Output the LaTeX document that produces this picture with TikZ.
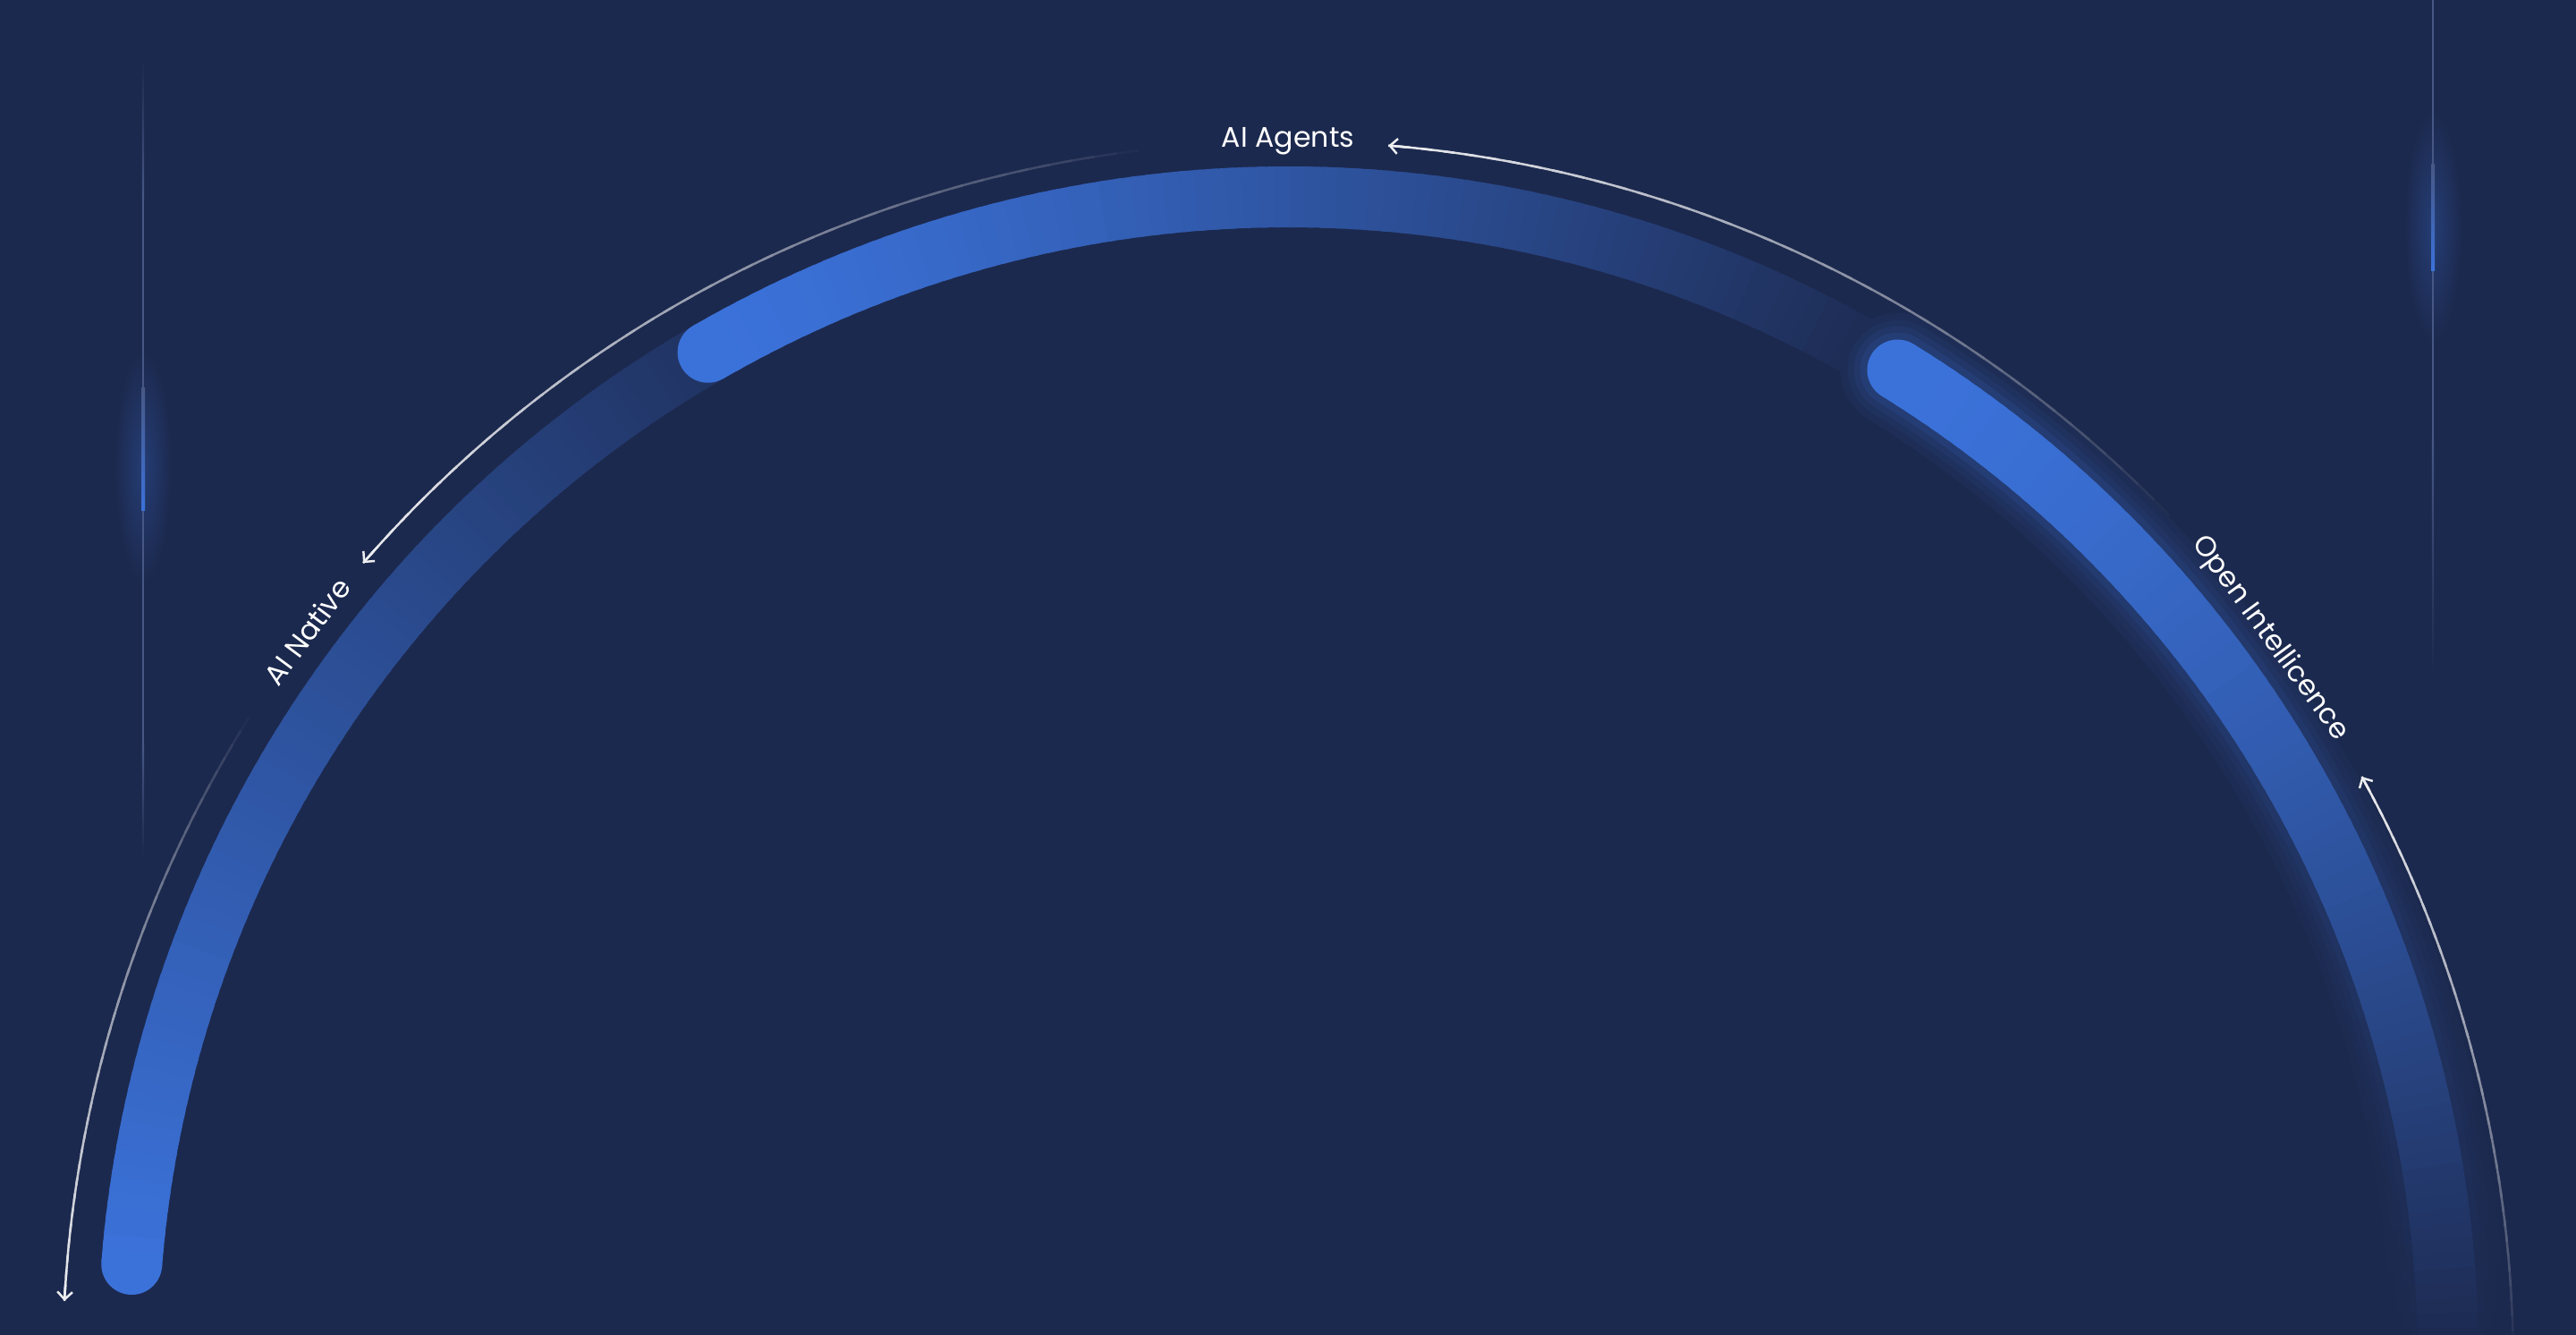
\documentclass[tikz,border=0pt]{standalone}
\usepackage{fontspec}
\setmainfont{Poppins}
\usetikzlibrary{arrows.meta}
\definecolor{bgc}{RGB}{28,41,78}
\definecolor{bandc}{RGB}{59,114,218}
\definecolor{railc}{RGB}{72,88,134}

\begin{document}
\begin{tikzpicture}[
    band/.style={line width=0.68cm},
    thin/.style={line width=0.7pt},
    tip/.style={-{Straight Barb[length=2.4pt,width=4.8pt]}},
    lbl/.style={text=white, font=\fontsize{9}{11}\selectfont, inner sep=0pt, anchor=mid},
]
\useasboundingbox (0,0) rectangle (28.8,14.92);
\fill[bgc] (0,0) rectangle (28.8,14.92);
\clip (0,0) rectangle (28.8,14.92);

\foreach \x/\ylo in {1.6/9.21, 27.2/11.89} {
    \shade[inner color=bandc!28!bgc, outer color=bgc] (\x,\ylo+0.5) ellipse (0.32 and 1.3);
}
\foreach \x/\ya/\yb/\yc/\yd in {1.6/14.25/12.7/6.6/5.35, 27.2/15/14.92/10/7.4} {
    \shade[top color=bgc, bottom color=railc] (\x-0.011,\yb) rectangle (\x+0.011,\ya);
    \fill[railc] (\x-0.011,\yc) rectangle (\x+0.011,\yb);
    \shade[top color=railc, bottom color=bgc] (\x-0.011,\yd) rectangle (\x+0.011,\yc);
}
\foreach \x/\ylo/\yhi in {1.6/9.21/10.58, 27.2/11.89/13.08} {
    \shade[top color=railc, bottom color=bandc] (\x-0.02,\ylo) rectangle (\x+0.02,\yhi);
}

\begin{scope}[shift={(14.4,-0.25)}]
\foreach \ba/\ea/\pe/\ex/\gl in {175.4/120/15/1/0, 120/58.3/0/1.3/0, 58.3/0/0/1.5/1} {
    \ifnum\gl=1
        \foreach \gw/\gp in {0.6/6, 0.44/11, 0.3/18, 0.16/28} {
            \pgfmathsetmacro\lw{0.68+\gw}
            \fill[bandc!\gp!bgc] (\ba:12.97) circle ({\lw/2});
            \foreach \i in {0,...,79} {
                \pgfmathsetmacro\ta{\ba+(\ea-\ba)*\i/80}
                \pgfmathsetmacro\tb{\ba+(\ea-\ba)*(\i+1.5)/80}
                \pgfmathsetmacro\pc{\gp*(1-((\i+0.5)/80)^\ex)}
                \draw[line width=\lw cm, draw=bandc!\pc!bgc] (\ta:12.97) arc[start angle=\ta, end angle=\tb, radius=12.97];
            }
        }
    \fi
    \fill[bandc] (\ba:12.97) circle (0.34);
    \foreach \i in {0,...,79} {
        \pgfmathsetmacro\ta{\ba+(\ea-\ba)*\i/80}
        \pgfmathsetmacro\tb{\ba+(\ea-\ba)*(\i+1.5)/80}
        \pgfmathsetmacro\pc{100-(100-\pe)*((\i+0.5)/80)^\ex}
        \draw[band, draw=bandc!\pc!bgc] (\ta:12.97) arc[start angle=\ta, end angle=\tb, radius=12.97];
    }
}
\node[lbl] (agents) at (90:13.62) {AI Agents};
\node[lbl, rotate=53.5] (native) at (143.5:13.62) {AI Native};
\node[lbl, rotate=-53.8] (open) at (36.2:13.62) {Open Intellicence};
\end{scope}

\begin{scope}[shift={(14.4,-0.36)}]
\foreach \sa/\ea in {97/139, 44/85.3, 148/176.9, 1/28.8} {
    \foreach \i in {0,...,39} {
        \pgfmathsetmacro\ta{\sa+(\ea-\sa)*\i/40}
        \pgfmathsetmacro\tb{min(\sa+(\ea-\sa)*(\i+1.5)/40,\ea)}
        \pgfmathsetmacro\pc{92*((\i+0.5)/40)^0.8}
        \draw[thin, draw=white!\pc!bgc] (\ta:13.7) arc[start angle=\ta, end angle=\tb, radius=13.7];
    }
    \pgfmathsetmacro\tc{\ea-0.8}
    \draw[thin, tip, draw=white!92!bgc] (\tc:13.7) arc[start angle=\tc, end angle=\ea, radius=13.7];
}
\end{scope}
\end{tikzpicture}
\end{document}
